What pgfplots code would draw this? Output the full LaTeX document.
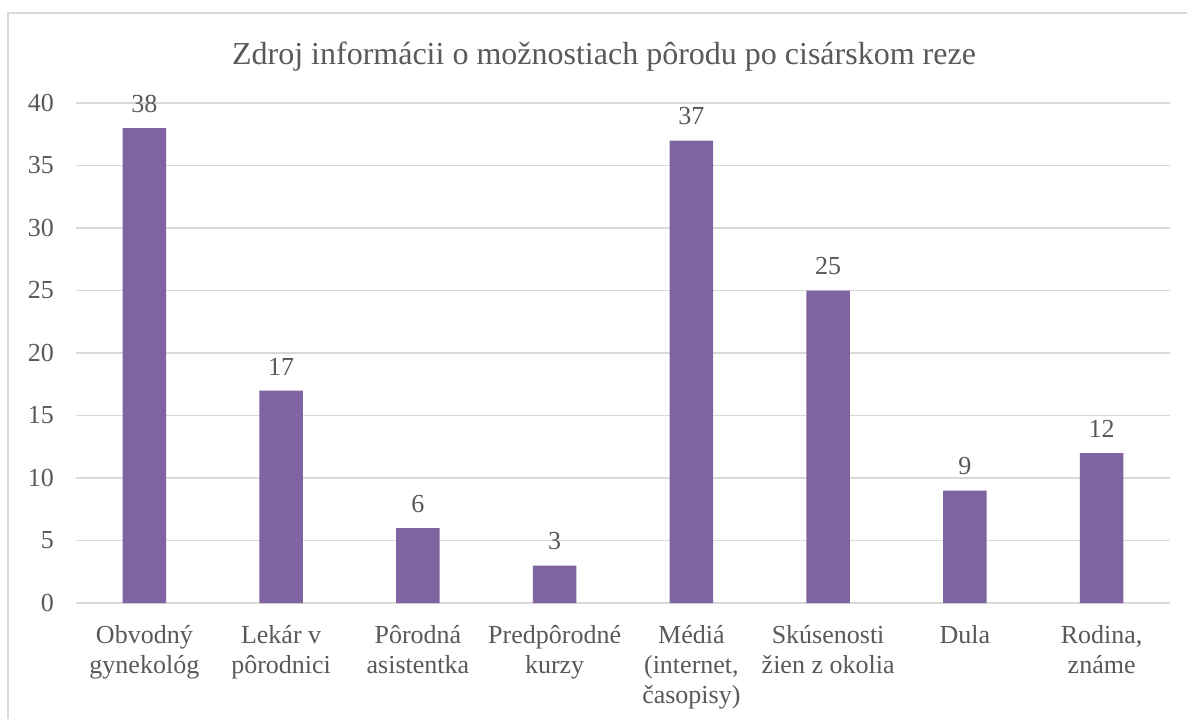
\documentclass[border=0pt]{standalone}
\usepackage{pgfplots}
\pgfplotsset{compat=1.18}
\usepackage{fontspec}
\setmainfont{Liberation Serif}
\definecolor{barc}{HTML}{8064A2}
\definecolor{txt}{HTML}{595959}
\definecolor{gridc}{HTML}{D9D9D9}
\begin{document}
\begin{tikzpicture}
\useasboundingbox (0,0) rectangle (890.25pt,539.25pt);
\fill[white] (0,0) rectangle (890.25pt,539.25pt);
\draw[gridc, line width=1.2pt] (6pt,0) -- (6pt,529.5pt) -- (890.25pt,529.5pt);
\node[text=txt, font=\fontsize{24}{29}\selectfont] at (453pt,496.5pt) {Zdroj informácii o možnostiach pôrodu po cisárskom reze};
\begin{axis}[
  at={(57pt,87pt)}, anchor=south west,
  scale only axis, width=820.5pt, height=375pt,
  xmin=-0.5, xmax=7.5, ymin=0, ymax=40,
  ytick={0,5,...,40},
  xtick={0,...,7},
  xticklabels={{Obvodný\\gynekológ},{Lekár v\\pôrodnici},{Pôrodná\\asistentka},{Predpôrodné\\kurzy},{Médiá\\(internet,\\časopisy)},{Skúsenosti\\žien z okolia},{Dula},{Rodina,\\známe}},
  axis line style={draw=none},
  xmajorgrids=false,
  ymajorgrids=true,
  y grid style={draw=gridc, line width=1pt},
  major tick length=0pt,
  every tick label/.append style={text=txt, font=\fontsize{19.5}{22.5}\selectfont},
  xticklabel style={align=center, anchor=north, yshift=-13pt},
  yticklabel style={xshift=-13pt},
  /pgf/number format/assume math mode=true,
  ybar, bar width=32.5pt,
  nodes near coords,
  every node near coord/.append style={text=txt, font=\fontsize{19.5}{22.5}\selectfont, yshift=8pt},
  clip=false,
]
\addplot[fill=barc, draw=none] coordinates {(0,38) (1,17) (2,6) (3,3) (4,37) (5,25) (6,9) (7,12)};
\end{axis}
\end{tikzpicture}
\end{document}
